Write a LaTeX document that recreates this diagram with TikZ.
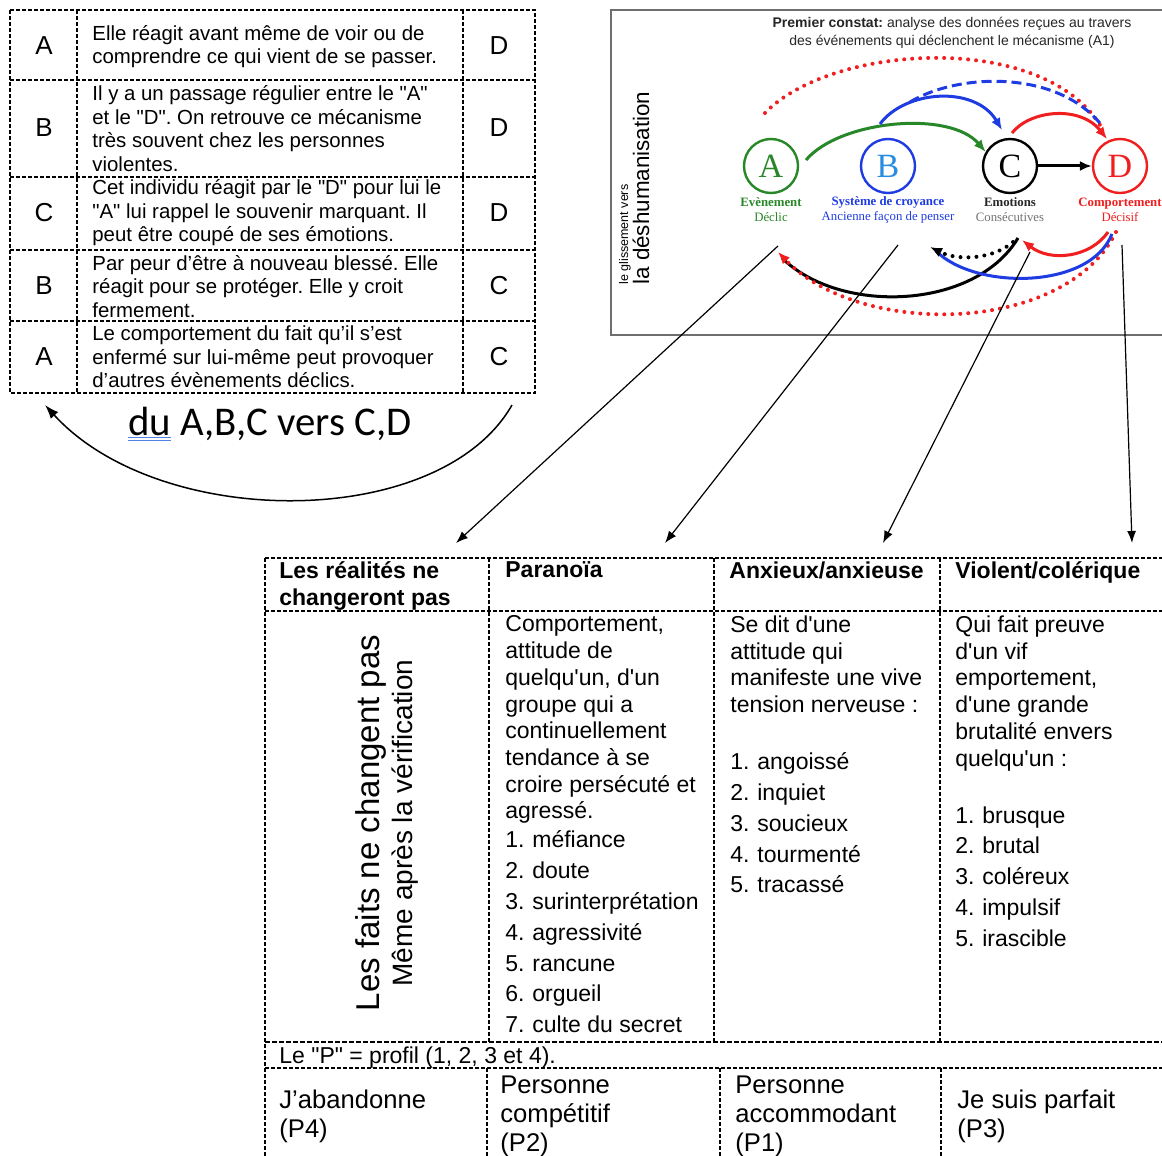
\documentclass[tikz,border=0pt]{standalone}
\usepackage{fontspec}
\setmainfont{Liberation Sans}[Ligatures=TeXOff]
\newfontfamily\tmsfont{Liberation Serif}
\newfontfamily\crlfont{Carlito}
\usetikzlibrary{arrows.meta,calc}

\definecolor{grA}{RGB}{40,135,40}
\definecolor{blB}{RGB}{30,60,225}
\definecolor{blL}{RGB}{40,140,225}
\definecolor{rdD}{RGB}{240,30,30}
\definecolor{frameg}{RGB}{110,110,110}
\definecolor{spell}{RGB}{80,130,230}

% numbered list entry: number in a fixed slot, then the word
\newcommand\itm[2]{\makebox[13.5pt][l]{#1}#2}
\frenchspacing

\begin{document}
\begin{tikzpicture}[x=0.5pt,y=-0.5pt,
  gridline/.style={line width=0.6pt, dash pattern=on 2pt off 1pt},
  gridthick/.style={line width=1.4pt, dash pattern=on 2.5pt off 1pt},
  cell/.style={font=\fontsize{10.2}{11.75}\selectfont, align=left, inner sep=0pt, anchor=west},
  ltr/.style={font=\fontsize{13}{15}\selectfont, inner sep=0pt},
  hdr/.style={font=\bfseries\fontsize{11.5}{13.3}\selectfont, align=left, inner sep=0pt, anchor=north west},
  body/.style={font=\fontsize{11.5}{13.35}\selectfont, align=left, inner sep=0pt, anchor=north west},
  lastrow/.style={font=\fontsize{12.8}{14.5}\selectfont, align=left, inner sep=0pt, anchor=north west},
  circ/.style={circle, draw, line width=1.2pt, minimum size=27pt, inner sep=0pt, font=\tmsfont\fontsize{17}{17}\selectfont},
  lbl/.style={font=\tmsfont\fontsize{6.4}{7.5}\selectfont, align=center, inner sep=0pt},
  arcarrow/.style={line width=1.5pt, -{Latex[length=6pt,width=5pt]}},
  thickline/.style={line width=1.5pt},
  dotline/.style={line width=2pt, line cap=round, dash pattern=on 0pt off 4pt},
  dashline/.style={line width=1.5pt, dash pattern=on 5pt off 2.5pt},
  conn/.style={line width=0.6pt, -{Latex[length=6pt,width=4.5pt]}},
  curvearrow/.style={line width=0.75pt, -{Latex[length=7pt,width=5pt]}}
]
\useasboundingbox (0,0) rectangle (1162,1156);
\clip (0,0) rectangle (1162,1156);
\fill[white] (0,0) rectangle (1162,1156);

% ---------- table of the letter passages ----------
\draw[gridline] (10,10) rectangle (535,393);
\foreach \yy in {80,177,250,321} \draw[gridline] (10,\yy) -- (535,\yy);
\foreach \xx in {77,463} \draw[gridline] (\xx,10) -- (\xx,393);

\node[ltr] (f1) at (44,46) {A};
\node[ltr] (f2) at (44,128) {B};
\node[ltr] (f3) at (44,213) {C};
\node[ltr] (f4) at (44,286) {B};
\node[ltr] (f5) at (44,357) {A};
\node[ltr] (g1) at (499,46) {D};
\node[ltr] (g2) at (499,128) {D};
\node[ltr] (g3) at (499,213) {D};
\node[ltr] (g4) at (499,286) {C};
\node[ltr] (g5) at (499,357) {C};

\node[cell] (t1) at (92,46.5) {Elle réagit avant même de voir ou de\\comprendre ce qui vient de se passer.};
\node[cell] (t2) at (92,128.5) {Il y a un passage régulier entre le "A"\\et le "D". On retrouve ce mécanisme\\très souvent chez les personnes\\violentes.};
\node[cell] (t3) at (92,213) {Cet individu réagit par le "D" pour lui le\\"A" lui rappel le souvenir marquant. Il\\peut être coupé de ses émotions.};
\node[cell] (t4) at (92,286.5) {Par peur d’être à nouveau blessé. Elle\\réagit pour se protéger. Elle y croit\\fermement.};
\node[cell] (t5) at (92,357) {Le comportement du fait qu’il s’est\\enfermé sur lui-même peut provoquer\\d’autres évènements déclics.};

% caption under the table and its return arrow
\node[font=\crlfont\fontsize{20.4}{23}\selectfont, inner sep=0pt, anchor=base] (cap) at (270,435) {du A,B,C vers C,D};
\draw[spell, line width=0.6pt] (128,437.5) -- (171,437.5) (128,440.5) -- (171,440.5);
\coordinate (bs) at (512,405);
\coordinate (be) at (45,405);
\draw[curvearrow] (bs) .. controls (440,531) and (160,531) .. (be);

% ---------- mechanism panel ----------
\draw[frameg, line width=1.2pt] (611,10) rectangle (1185,335);
\node[font=\fontsize{7}{9}\selectfont, align=center, inner sep=0pt, text=black!85] (ttl) at (952,33)
  {\textbf{Premier constat:} analyse des données reçues au travers\\des événements qui déclenchent le mécanisme (A1)};
\node[rotate=90, anchor=west, font=\fontsize{11.2}{13}\selectfont, inner sep=0pt] (dsh) at (641,285) {la déshumanisation};
\node[rotate=90, anchor=west, font=\fontsize{6.25}{7}\selectfont, inner sep=0pt] (gls) at (625,285) {le glissement vers};

\node[circ, draw=grA, text=grA] (A) at (771,166) {A};
\node[circ, draw=blB, text=blL] (B) at (888,166) {B};
\node[circ, draw=black] (C) at (1010,166) {C};
\node[circ, draw=rdD, text=rdD] (D) at (1120,166) {D};

\node[lbl, text=grA] (la) at (771,209.5) {\textbf{Evènement}\\Déclic};
\node[lbl, text=blB] (lb) at (888,209.5) {\textbf{Système de croyance}\\Ancienne façon de penser};
\node[lbl, text=black!85] (lc) at (1010,209.5) {\textbf{Emotions}\\\textcolor{black!55}{Consécutives}};
\node[lbl, text=rdD] (ld) at (1120,209.5) {\textbf{Comportement}\\Décisif};

% upper arcs
\coordinate (gs) at (806,160);
\coordinate (bsu) at (880,124);
\coordinate (beu) at (1002,130);
\coordinate (ds) at (910,102);
\coordinate (de) at (1103,127);
\coordinate (rs) at (765,113);
\coordinate (re) at (1100,125);
\coordinate (rcs) at (1012,133);
\coordinate (rce) at (1107,139);
\draw[rdD, dotline] (rs) .. controls (830,45) and (1040,30) .. (re);
\draw[blB, dashline] (ds) .. controls (960,72) and (1060,70) .. (de);
\draw[arcarrow, grA] (gs) .. controls (840,120) and (950,110) .. (C.150);
\draw[arcarrow, blB] (bsu) .. controls (905,90) and (975,85) .. (beu);
\draw[arcarrow, rdD] (rcs) .. controls (1030,110) and (1080,105) .. (rce);
\draw[arcarrow, black] (C.east) -- (D.west);

% lower arcs
\coordinate (ks) at (1018,238);
\coordinate (ke) at (782,258);
\coordinate (qs) at (1116,232);
\coordinate (qe) at (778,252);
\coordinate (us) at (1112,234);
\coordinate (ue) at (936,251);
\coordinate (ms) at (1013,242);
\coordinate (me) at (930,247);
\coordinate (ns) at (1108,232);
\coordinate (ne) at (1022,240);
\draw[thickline, black] (ks) .. controls (975,310) and (840,315) .. (ke);
\draw[rdD, dotline, -{Latex[length=6pt,width=5pt]}] (qs) .. controls (1065,335) and (860,338) .. (qe);
\draw[thickline, blB] (us) .. controls (1090,290) and (975,290) .. (ue);
\draw[black, dotline, -{Latex[length=6pt,width=5pt]}] (ms) .. controls (995,258) and (960,262) .. (me);
\draw[arcarrow, rdD] (ns) .. controls (1090,258) and (1050,262) .. (ne);

% connectors to the profile table
\coordinate (c1s) at (778,246);  \coordinate (c1e) at (456,543);
\coordinate (c2s) at (898,245);  \coordinate (c2e) at (665,543);
\coordinate (c3s) at (1030,252); \coordinate (c3e) at (883,543);
\coordinate (c4s) at (1122,245); \coordinate (c4e) at (1132,543);
\draw[conn] (c1s) -- (c1e);
\draw[conn] (c2s) -- (c2e);
\draw[conn] (c3s) -- (c3e);
\draw[conn] (c4s) -- (c4e);

% ---------- profile table ----------
\draw[gridline] (265,558) -- (1185,558);
\draw[gridline] (265,611) -- (1185,611);
\draw[gridthick] (265,1042) -- (1185,1042);
\draw[gridline] (265,1068) -- (1185,1068);
\draw[gridline] (265,558) -- (265,1160);
\foreach \xx in {489,714,940} \draw[gridline] (\xx,558) -- (\xx,1042);
\foreach \xx in {487,720,941} \draw[gridline] (\xx,1068) -- (\xx,1160);

\node[hdr] (h1) at (279,561.5) {Les réalités ne\\changeront pas};
\node[hdr] (h2) at (505,561.5) {Paranoïa};
\node[hdr] (h3) at (729,561.5) {Anxieux/anxieuse};
\node[hdr] (h4) at (955,561.5) {Violent/colérique};

\node[rotate=90, font=\fontsize{16.5}{18}\selectfont, inner sep=0pt] (v1) at (371,823) {Les faits ne changent pas};
\node[rotate=90, font=\fontsize{14}{16}\selectfont, inner sep=0pt] (v2) at (405,823) {Même après la vérification};

\node[body] (b2) at (505,615.5) {Comportement,\\attitude de\\quelqu'un, d'un\\groupe qui a\\continuellement\\tendance à se\\croire persécuté et\\agressé.\\[1.2pt]
  \itm{1.}{méfiance}\\[2.05pt]\itm{2.}{doute}\\[2.05pt]\itm{3.}{surinterprétation}\\[2.05pt]\itm{4.}{agressivité}\\[2.05pt]\itm{5.}{rancune}\\[2.05pt]\itm{6.}{orgueil}\\[2.05pt]\itm{7.}{culte du secret}};
\node[body] (b3) at (730,615.5) {Se dit d'une\\attitude qui\\manifeste une vive\\tension nerveuse :\\[15.2pt]
  \itm{1.}{angoissé}\\[2.05pt]\itm{2.}{inquiet}\\[2.05pt]\itm{3.}{soucieux}\\[2.05pt]\itm{4.}{tourmenté}\\[2.05pt]\itm{5.}{tracassé}};
\node[body] (b4) at (955,615.5) {Qui fait preuve\\d'un vif\\emportement,\\d'une grande\\brutalité envers\\quelqu'un :\\[15.2pt]
  \itm{1.}{brusque}\\[2.05pt]\itm{2.}{brutal}\\[2.05pt]\itm{3.}{coléreux}\\[2.05pt]\itm{4.}{impulsif}\\[2.05pt]\itm{5.}{irascible}};

\node[font=\fontsize{11.5}{13}\selectfont, inner sep=0pt, anchor=west] (note) at (279,1058) {Le "P" = profil (1, 2, 3 et 4).};

\node[lastrow] (p4) at (279,1089.3) {J’abandonne\\(P4)};
\node[lastrow] (p2) at (500,1075.3) {Personne\\compétitif\\(P2)};
\node[lastrow] (p1) at (735,1075.3) {Personne\\accommodant\\(P1)};
\node[lastrow] (p3) at (957,1089.3) {Je suis parfait\\(P3)};
\end{tikzpicture}
\end{document}
